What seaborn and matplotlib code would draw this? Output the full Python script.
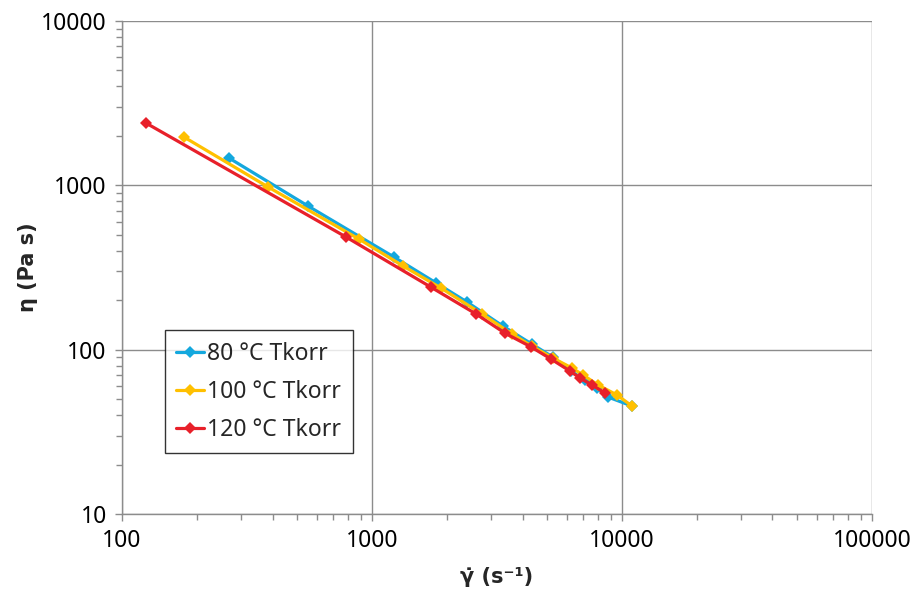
import numpy as np
import pandas as pd
import matplotlib
matplotlib.use("Agg")
import matplotlib.pyplot as plt
import matplotlib.ticker as mticker
import seaborn as sns

# Shear rate (1/s) and viscosity (Pa s) per melt temperature
rate_80 = [268, 555, 1225, 1803, 2399, 3342, 4365, 5297, 6252, 7112, 7943, 8790, 10965]
eta_80 = [1466, 748, 366, 255, 195, 139, 108, 90, 74.1, 65.3, 58.5, 51.5, 45.4]

rate_100 = [177, 384, 887, 1331, 1888, 2754, 3631, 4365, 5297, 6310, 6982, 8017, 9550, 10965]
eta_100 = [1967, 977, 471, 323, 237, 165, 124.5, 105, 88.9, 77.3, 70.2, 61.0, 53.0, 45.4]

rate_120 = [124.7, 787, 1722, 2606, 3404, 4325, 5200, 6194, 6792, 7586, 8551]
eta_120 = [2393, 485, 240, 165, 126, 104, 87.7, 74.1, 67.2, 61.0, 54.5]

series_names = ["80 °C Tkorr", "100 °C Tkorr", "120 °C Tkorr"]
series_colors = ["#14A8DE", "#FFC000", "#E8202A"]

x_ticks = [100, 1000, 10000, 100000]
y_ticks = [10, 100, 1000, 10000]

frames = []
for name, xs, ys in zip(series_names, [rate_80, rate_100, rate_120], [eta_80, eta_100, eta_120]):
    frames.append(pd.DataFrame({"rate": xs, "eta": ys, "series": name}))
df = pd.concat(frames, ignore_index=True)

sns.set_theme(style="white")
plt.rcParams["font.family"] = ["Noto Sans", "DejaVu Sans"]

fig = plt.figure(figsize=(9.12, 5.90), dpi=100)
ax = fig.add_axes([0.1338, 0.1288, 0.8223, 0.8356])

sns.lineplot(
    data=df, x="rate", y="eta", hue="series", hue_order=series_names,
    palette=series_colors, style="series", markers=["D"] * 3, dashes=False,
    sort=False, estimator=None, linewidth=2.3, markersize=6,
    markeredgewidth=0, ax=ax, legend=True,
)

ax.set_xscale("log")
ax.set_yscale("log")
ax.set_xlim(100, 100000)
ax.set_ylim(10, 10000)

ax.xaxis.set_major_locator(mticker.FixedLocator(x_ticks))
ax.yaxis.set_major_locator(mticker.FixedLocator(y_ticks))
ax.xaxis.set_major_formatter(mticker.FixedFormatter([str(v) for v in x_ticks]))
ax.yaxis.set_major_formatter(mticker.FixedFormatter([str(v) for v in y_ticks]))
ax.xaxis.set_minor_locator(mticker.LogLocator(base=10, subs=np.arange(2, 10)))
ax.yaxis.set_minor_locator(mticker.LogLocator(base=10, subs=np.arange(2, 10)))
ax.xaxis.set_minor_formatter(mticker.NullFormatter())
ax.yaxis.set_minor_formatter(mticker.NullFormatter())

grid_gray = "#8C8C8C"
ax.grid(True, which="major", color=grid_gray, linewidth=1.0)
ax.grid(False, which="minor")
for side in ["left", "bottom", "top", "right"]:
    ax.spines[side].set_color(grid_gray)
    ax.spines[side].set_linewidth(1.0)
ax.spines["top"].set_visible(False)
ax.spines["right"].set_visible(False)

ax.tick_params(axis="both", which="major", direction="out", length=5, width=1,
               color=grid_gray, labelsize=16.5, labelcolor="black", pad=6,
               bottom=True, left=True)
ax.tick_params(axis="both", which="minor", direction="out", length=4, width=1,
               color=grid_gray, bottom=True, left=True)

ax.set_xlabel("γ̇ (s⁻¹)", fontsize=15, fontweight="bold", family=["DejaVu Sans"], labelpad=10)
ax.set_ylabel("η (Pa s)", fontsize=15, fontweight="bold", family=["DejaVu Sans"], labelpad=2)

handles, labels = ax.get_legend_handles_labels()
leg = ax.legend(
    handles, labels, loc="upper left", bbox_to_anchor=(0.057, 0.373),
    fontsize=16.5, frameon=True, fancybox=False, edgecolor="black",
    handlelength=1.2, handletextpad=0.15, labelspacing=0.62,
    borderpad=0.5, borderaxespad=0,
)
leg.get_frame().set_linewidth(1.0)

fig.savefig("out.png", dpi=100)
